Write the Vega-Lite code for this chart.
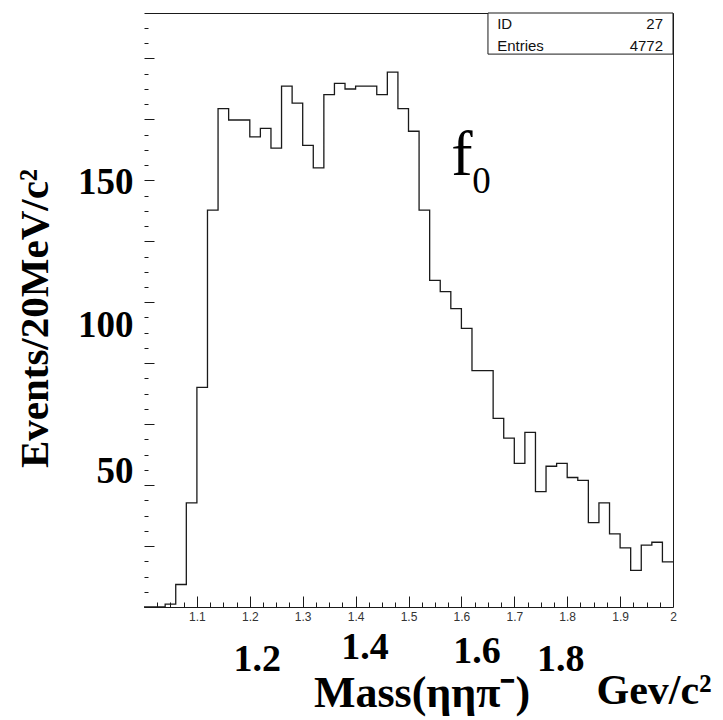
{
  "$schema": "https://vega.github.io/schema/vega-lite/v6.json",
  "width": 529,
  "height": 594,
  "autosize": "none",
  "padding": {"left": 144, "top": 13, "right": 50, "bottom": 113},
  "background": "white",
  "config": {"view": {"stroke": null}, "axis": {"grid": false, "labelOverlap": false, "labelFlush": false}},
  "datasets": {
    "hist": [
      {"lo": 1.00, "hi": 1.02, "n": 0},
      {"lo": 1.02, "hi": 1.04, "n": 0},
      {"lo": 1.04, "hi": 1.06, "n": 1},
      {"lo": 1.06, "hi": 1.08, "n": 8},
      {"lo": 1.08, "hi": 1.10, "n": 37},
      {"lo": 1.10, "hi": 1.12, "n": 78},
      {"lo": 1.12, "hi": 1.14, "n": 141},
      {"lo": 1.14, "hi": 1.16, "n": 177},
      {"lo": 1.16, "hi": 1.18, "n": 173},
      {"lo": 1.18, "hi": 1.20, "n": 173},
      {"lo": 1.20, "hi": 1.22, "n": 167},
      {"lo": 1.22, "hi": 1.24, "n": 170},
      {"lo": 1.24, "hi": 1.26, "n": 163},
      {"lo": 1.26, "hi": 1.28, "n": 185},
      {"lo": 1.28, "hi": 1.30, "n": 179},
      {"lo": 1.30, "hi": 1.32, "n": 164},
      {"lo": 1.32, "hi": 1.34, "n": 156},
      {"lo": 1.34, "hi": 1.36, "n": 182},
      {"lo": 1.36, "hi": 1.38, "n": 186},
      {"lo": 1.38, "hi": 1.40, "n": 184},
      {"lo": 1.40, "hi": 1.42, "n": 185},
      {"lo": 1.42, "hi": 1.44, "n": 185},
      {"lo": 1.44, "hi": 1.46, "n": 182},
      {"lo": 1.46, "hi": 1.48, "n": 190},
      {"lo": 1.48, "hi": 1.50, "n": 177},
      {"lo": 1.50, "hi": 1.52, "n": 169},
      {"lo": 1.52, "hi": 1.54, "n": 141},
      {"lo": 1.54, "hi": 1.56, "n": 116},
      {"lo": 1.56, "hi": 1.58, "n": 112},
      {"lo": 1.58, "hi": 1.60, "n": 106},
      {"lo": 1.60, "hi": 1.62, "n": 99},
      {"lo": 1.62, "hi": 1.64, "n": 84},
      {"lo": 1.64, "hi": 1.66, "n": 84},
      {"lo": 1.66, "hi": 1.68, "n": 67},
      {"lo": 1.68, "hi": 1.70, "n": 60},
      {"lo": 1.70, "hi": 1.72, "n": 51},
      {"lo": 1.72, "hi": 1.74, "n": 62},
      {"lo": 1.74, "hi": 1.76, "n": 41},
      {"lo": 1.76, "hi": 1.78, "n": 50},
      {"lo": 1.78, "hi": 1.80, "n": 51},
      {"lo": 1.80, "hi": 1.82, "n": 46},
      {"lo": 1.82, "hi": 1.84, "n": 45},
      {"lo": 1.84, "hi": 1.86, "n": 30},
      {"lo": 1.86, "hi": 1.88, "n": 37},
      {"lo": 1.88, "hi": 1.90, "n": 26},
      {"lo": 1.90, "hi": 1.92, "n": 21},
      {"lo": 1.92, "hi": 1.94, "n": 13},
      {"lo": 1.94, "hi": 1.96, "n": 22},
      {"lo": 1.96, "hi": 1.98, "n": 23},
      {"lo": 1.98, "hi": 2.00, "n": 16}
    ]
  },
  "layer": [
    {
      "data": {"name": "hist"},
      "transform": [{"fold": ["lo", "hi"], "as": ["edge", "xpos"]}],
      "mark": {"type": "line", "color": "#1a1a1a", "strokeWidth": 1.3, "interpolate": "linear"},
      "encoding": {
        "x": {"field": "xpos", "type": "quantitative",
          "scale": {"domain": [1, 2], "nice": false, "zero": false},
          "axis": {"orient": "bottom", "values": [1.1, 1.2, 1.3, 1.4, 1.5, 1.6, 1.7, 1.8, 1.9, 2],
            "format": "~g", "ticks": false, "domain": true, "domainColor": "#1a1a1a", "domainWidth": 1,
            "labelFont": "Liberation Sans", "labelFontSize": 12, "labelColor": "#333333", "labelPadding": 4,
            "title": null}},
        "y": {"field": "n", "type": "quantitative",
          "scale": {"domain": [0, 211], "nice": false, "zero": true},
          "axis": {"orient": "left", "values": [50, 100, 150], "ticks": false, "domain": false,
            "labelFont": "Liberation Serif", "labelFontWeight": "bold", "labelFontSize": 37, "labelColor": "#000000",
            "labelPadding": 11,
            "labelOffset": {"condition": [{"test": "datum.value == 50", "value": 5}, {"test": "datum.value == 150", "value": -2}], "value": 0},
            "title": "Events/20MeV/c²", "titleFont": "Liberation Serif", "titleFontSize": 41, "titleFontWeight": "bold",
            "titleColor": "#000000", "titleX": -97, "titleY": 305, "titleAngle": -90, "titleAlign": "center", "titleBaseline": "alphabetic"}},
        "order": [{"field": "lo", "type": "quantitative"}, {"field": "xpos", "type": "quantitative"}]
      }
    },
    {
      "data": {"name": "hist"},
      "transform": [{"fold": ["lo", "hi"], "as": ["edge", "xpos"]}],
      "mark": {"type": "line", "opacity": 0},
      "encoding": {
        "x": {"field": "xpos", "type": "quantitative",
          "axis": {"orient": "bottom", "values": [1.1, 1.2, 1.3, 1.4, 1.5, 1.6, 1.7, 1.8, 1.9],
            "labels": false, "domain": false, "ticks": true, "tickSize": -11, "tickColor": "#1a1a1a", "tickWidth": 1,
            "title": "Gev/c²", "titleFont": "Liberation Serif", "titleFontSize": 42, "titleFontWeight": "bold", "titleColor": "#000000",
            "titleX": 452, "titleY": 96, "titleAlign": "left", "titleBaseline": "alphabetic"}},
        "y": {"field": "n", "type": "quantitative",
          "axis": {"orient": "left", "values": [0, 21.65, 43.3, 64.95, 86.6, 108.25, 129.9, 151.55, 173.2, 194.85],
            "labels": false, "domain": false, "ticks": true, "tickSize": -10, "tickColor": "#1a1a1a", "tickWidth": 1, "title": null}}
      }
    },
    {
      "data": {"name": "hist"},
      "transform": [{"fold": ["lo", "hi"], "as": ["edge", "xpos"]}],
      "mark": {"type": "line", "opacity": 0},
      "encoding": {
        "x": {"field": "xpos", "type": "quantitative",
          "axis": {"orient": "bottom", "values": [1.025, 1.05, 1.075, 1.125, 1.15, 1.175, 1.225, 1.25, 1.275, 1.325, 1.35, 1.375, 1.425, 1.45, 1.475, 1.525, 1.55, 1.575, 1.625, 1.65, 1.675, 1.725, 1.75, 1.775, 1.825, 1.85, 1.875, 1.925, 1.95, 1.975],
            "labels": false, "domain": false, "ticks": true, "tickSize": -5, "tickColor": "#1a1a1a", "tickWidth": 1, "title": null}},
        "y": {"field": "n", "type": "quantitative",
          "axis": {"orient": "left", "values": [5.41, 10.83, 16.24, 27.06, 32.48, 37.89, 48.71, 54.13, 59.54, 70.36, 75.78, 81.19, 92.01, 97.43, 102.84, 113.66, 119.08, 124.49, 135.31, 140.73, 146.14, 156.96, 162.38, 167.79, 178.61, 184.03, 189.44, 200.26, 205.68],
            "labels": false, "domain": false, "ticks": true, "tickSize": -4, "tickColor": "#1a1a1a", "tickWidth": 1, "title": null}}
      }
    },
    {
      "data": {"name": "hist"},
      "transform": [{"fold": ["lo", "hi"], "as": ["edge", "xpos"]}],
      "mark": {"type": "line", "opacity": 0},
      "encoding": {
        "x": {"field": "xpos", "type": "quantitative",
          "axis": {"orient": "bottom", "values": [1.2, 1.4, 1.6, 1.8], "format": ".1f",
            "ticks": false, "domain": false,
            "labelFont": "Liberation Serif", "labelFontWeight": "bold", "labelFontSize": 38, "labelColor": "#000000",
            "labelBaseline": "alphabetic",
            "labelPadding": {"condition": [{"test": "datum.value > 1.3 && datum.value < 1.5", "value": 51}, {"test": "datum.value > 1.5 && datum.value < 1.7", "value": 55}], "value": 63},
            "labelOffset": {"condition": [{"test": "datum.value < 1.3", "value": 7}, {"test": "datum.value < 1.5", "value": 9}, {"test": "datum.value < 1.7", "value": 15}], "value": -7},
            "title": "Mass(ηηπ⁻)", "titleFont": "Liberation Serif", "titleFontSize": 44, "titleFontWeight": "bold", "titleColor": "#000000",
            "titleX": 277.5, "titleY": 99, "titleAlign": "center", "titleBaseline": "alphabetic"}},
        "y": {"field": "n", "type": "quantitative", "axis": null}
      }
    },
    {
      "data": {"name": "hist"},
      "transform": [{"fold": ["lo", "hi"], "as": ["edge", "xpos"]}],
      "mark": {"type": "line", "opacity": 0},
      "encoding": {
        "x": {"field": "xpos", "type": "quantitative",
          "axis": {"orient": "top", "labels": false, "ticks": false, "domain": true, "domainColor": "#1a1a1a", "domainWidth": 1, "title": null}},
        "y": {"field": "n", "type": "quantitative",
          "axis": {"orient": "right", "labels": false, "ticks": false, "domain": true, "domainColor": "#1a1a1a", "domainWidth": 1, "title": null}}
      }
    },
    {
      "data": {"values": [{}]},
      "mark": {"type": "rect", "fill": "white", "stroke": "#1a1a1a", "strokeWidth": 1},
      "encoding": {
        "x": {"datum": 1.6502, "type": "quantitative", "axis": null},
        "x2": {"datum": 2},
        "y": {"datum": 196.4, "type": "quantitative", "axis": null},
        "y2": {"datum": 211}
      }
    },
    {
      "data": {"values": [{}]},
      "mark": {"type": "text", "text": "ID", "font": "Liberation Sans", "fontSize": 15, "color": "#111111", "align": "left", "baseline": "middle"},
      "encoding": {
        "x": {"datum": 1.6676, "type": "quantitative", "axis": null},
        "y": {"datum": 207.1, "type": "quantitative", "axis": null}
      }
    },
    {
      "data": {"values": [{}]},
      "mark": {"type": "text", "text": "27", "font": "Liberation Sans", "fontSize": 15, "color": "#111111", "align": "right", "baseline": "middle"},
      "encoding": {
        "x": {"datum": 1.9811, "type": "quantitative", "axis": null},
        "y": {"datum": 207.1, "type": "quantitative", "axis": null}
      }
    },
    {
      "data": {"values": [{}]},
      "mark": {"type": "text", "text": "Entries", "font": "Liberation Sans", "fontSize": 15, "color": "#111111", "align": "left", "baseline": "middle"},
      "encoding": {
        "x": {"datum": 1.6676, "type": "quantitative", "axis": null},
        "y": {"datum": 199.4, "type": "quantitative", "axis": null}
      }
    },
    {
      "data": {"values": [{}]},
      "mark": {"type": "text", "text": "4772", "font": "Liberation Sans", "fontSize": 15, "color": "#111111", "align": "right", "baseline": "middle"},
      "encoding": {
        "x": {"datum": 1.9811, "type": "quantitative", "axis": null},
        "y": {"datum": 199.4, "type": "quantitative", "axis": null}
      }
    },
    {
      "data": {"values": [{}]},
      "mark": {"type": "text", "text": "f", "font": "Liberation Serif", "fontSize": 64, "color": "#000000", "align": "left", "baseline": "alphabetic"},
      "encoding": {
        "x": {"datum": 1.5808, "type": "quantitative", "axis": null},
        "y": {"datum": 153.46, "type": "quantitative", "axis": null}
      }
    },
    {
      "data": {"values": [{}]},
      "mark": {"type": "text", "text": "0", "font": "Liberation Serif", "fontSize": 37, "color": "#000000", "align": "left", "baseline": "alphabetic"},
      "encoding": {
        "x": {"datum": 1.6205, "type": "quantitative", "axis": null},
        "y": {"datum": 146.96, "type": "quantitative", "axis": null}
      }
    }
  ],
  "resolve": {"axis": {"x": "independent", "y": "independent"}}
}
